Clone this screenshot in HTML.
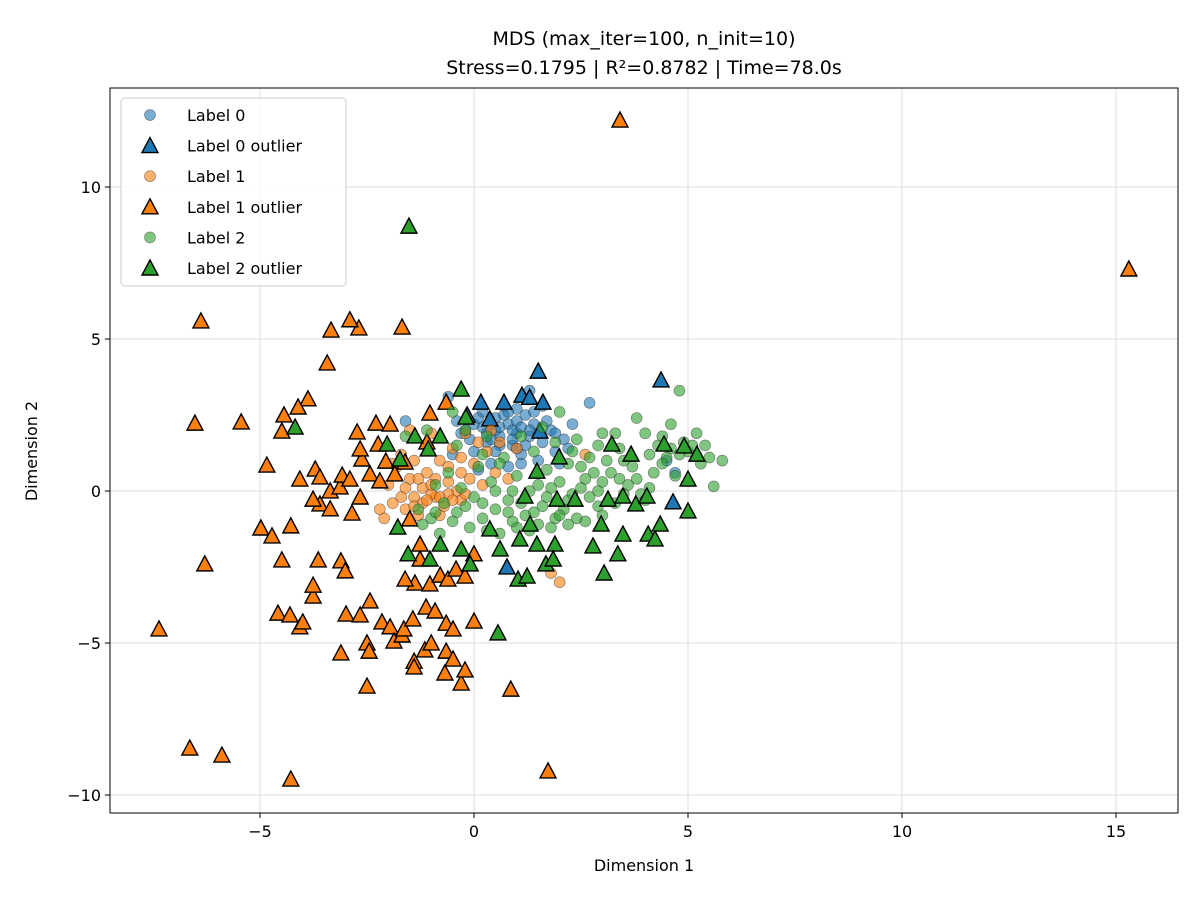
<!DOCTYPE html>
<html><head><meta charset="utf-8"><style>
body{margin:0;background:#fff;font-family:"Liberation Sans","DejaVu Sans",sans-serif}
svg text{font-family:"DejaVu Sans","Liberation Sans",sans-serif}
</style></head><body>
<svg id="chart" width="1200" height="900" xmlns="http://www.w3.org/2000/svg">
<rect width="1200" height="900" fill="#fff"/>
<text x="644" y="45" font-size="19" text-anchor="middle">MDS (max_iter=100, n_init=10)</text>
<text x="644" y="74" font-size="19" text-anchor="middle">Stress=0.1795 | R²=0.8782 | Time=78.0s</text>
<g id="grid"></g><g id="marks"></g><g id="axes"></g>
<text x="644" y="871" font-size="16" text-anchor="middle">Dimension 1</text>
<text x="37" y="451" font-size="16" text-anchor="middle" transform="rotate(-90 37 451)">Dimension 2</text>
<g id="legend"></g>
</svg>
<script>
const xTicks=[-5,0,5,10,15];
const yTicks=[-10,-5,0,5,10];
const labels=["Label 0","Label 1","Label 2"];
const colors=["#1f77b4","#ff7f0e","#2ca02c"];
const normal0=[[0.2,2.1],[0.5,2.4],[0.8,2.2],[1.0,1.9],[1.2,2.5],[1.4,2.2],[0.6,1.8],[0.9,1.5],[1.1,1.2],[0.3,1.6],[-0.2,2.0],[-0.4,2.3],[0.0,1.3],[1.6,1.6],[1.8,2.0],[2.1,1.7],[2.3,2.2],[1.3,3.3],[0.7,2.8],[1.0,2.7],[-0.6,3.1],[-1.6,2.3],[2.7,2.9],[4.7,0.6],[4.5,1.0],[0.4,0.9],[0.8,0.8],[1.5,1.0],[-0.5,1.2],[0.1,0.7],[1.9,1.3],[2.0,0.9],[0.5,2.0],[1.3,1.8],[0.9,2.0],[0.2,2.6],[-0.1,1.7],[1.6,2.8],[2.2,1.4],[1.1,0.9],[0.4,2.2],[0.7,2.5],[1.0,2.3],[1.3,2.0],[0.6,1.5],[0.9,1.7],[1.2,1.5],[0.3,1.9],[0.0,2.2],[1.5,1.9],[1.7,2.3],[0.8,2.6],[0.5,1.3],[1.4,2.6],[0.1,2.4],[-0.3,1.9],[1.9,1.9],[0.6,2.1],[1.1,2.1],[0.4,1.7],[1.0,1.4]];
const outlier0=[[1.5,3.91],[4.37,3.62],[1.12,3.12],[1.61,2.89],[1.3,3.05],[0.7,2.89],[0.16,2.89],[1.54,1.94],[-0.16,2.47],[4.65,-0.39],[0.77,-2.53],[0.37,2.34]];
const normal1=[[-1.8,0.8],[-1.5,0.4],[-1.2,0.1],[-0.9,-0.2],[-0.6,0.3],[-0.3,0.6],[0.0,0.9],[0.3,1.3],[0.6,1.6],[-1.9,-0.4],[-1.6,-0.6],[-1.3,-0.8],[-1.0,-0.1],[-0.7,-0.5],[-0.4,0.0],[-0.1,0.4],[0.2,0.2],[-2.0,0.2],[-1.7,1.2],[-1.4,1.0],[-1.1,0.6],[-0.8,1.0],[-0.5,1.4],[-0.2,1.9],[0.4,2.0],[-2.1,-0.9],[-1.2,-0.4],[-0.9,0.4],[-0.6,-0.1],[-1.5,2.0],[-1.0,1.9],[-0.3,1.1],[0.5,0.6],[1.0,1.4],[2.6,1.2],[2.0,-3.0],[1.8,-2.7],[-0.3,-0.3],[-0.8,-0.8],[-1.4,-0.2],[-2.2,-0.6],[-1.9,0.9],[0.1,1.6],[0.8,0.4],[-1.1,-0.3],[-0.8,-0.2],[-1.4,-0.5],[-0.5,-0.3],[-1.7,-0.2],[-1.0,0.2],[-0.2,-0.1],[-1.3,0.4],[-0.6,0.8],[-1.6,0.1]];
const outlier1=[[3.41,12.17],[15.3,7.27],[-6.38,5.56],[-2.69,5.33],[-3.34,5.26],[-2.9,5.6],[-1.68,5.36],[-3.43,4.18],[-6.52,2.2],[-5.44,2.24],[-3.88,3.0],[-4.11,2.73],[-4.44,2.47],[-4.49,1.94],[-4.84,0.82],[-4.98,-1.25],[-4.72,-1.51],[-4.28,-1.18],[-6.29,-2.43],[-4.49,-2.3],[-7.36,-4.57],[-4.58,-4.05],[-4.3,-4.11],[-4.07,-4.5],[-4.0,-4.34],[-3.76,-3.49],[-3.76,-3.13],[-3.64,-2.3],[-3.11,-2.33],[-3.01,-2.66],[-2.99,-4.08],[-3.11,-5.36],[-2.66,-4.11],[-2.43,-3.65],[-2.5,-5.03],[-2.45,-5.3],[-2.5,-6.45],[-2.15,-4.34],[-1.96,-4.5],[-1.87,-4.97],[-1.68,-4.77],[-1.64,-4.57],[-1.43,-4.24],[-1.4,-5.63],[-1.4,-5.82],[-1.15,-5.26],[-1.0,-5.03],[-1.12,-3.85],[-0.91,-3.98],[-0.65,-4.38],[-0.49,-4.57],[-0.65,-5.3],[-0.49,-5.56],[-0.68,-6.02],[-0.3,-6.35],[-0.21,-5.92],[0.0,-4.31],[0.86,-6.55],[-6.64,-8.49],[-5.89,-8.72],[-4.28,-9.51],[1.73,-9.24],[0.0,-2.1],[-4.07,0.36],[-3.71,0.69],[-3.6,0.43],[-3.6,-0.46],[-3.36,-0.03],[-3.13,0.1],[-3.08,0.49],[-2.9,0.36],[-2.66,-0.23],[-2.85,-0.76],[-2.73,1.91],[-2.29,2.2],[-2.24,1.51],[-1.96,2.17],[-2.06,0.95],[-1.85,0.53],[-1.61,0.92],[-1.03,2.53],[-1.1,1.58],[-0.65,2.89],[-2.62,1.02],[-2.43,0.53],[-2.2,0.3],[-1.5,-0.95],[-1.38,-3.06],[-1.26,-2.27],[-1.03,-3.09],[-0.79,-2.8],[-0.61,-2.93],[-0.42,-2.6],[-0.21,-2.83],[-1.61,-2.93],[-1.26,-1.78],[-2.66,1.35],[-3.76,-0.3],[-3.36,-0.62]];
const normal2=[[-0.5,2.6],[-0.2,2.0],[0.3,1.8],[0.7,1.1],[1.0,0.5],[1.3,0.0],[1.6,-0.5],[1.9,-0.9],[2.2,-0.3],[2.5,0.1],[2.8,0.6],[3.1,1.0],[3.4,1.4],[3.7,0.8],[4.0,1.9],[4.3,1.5],[4.6,2.2],[4.9,1.6],[5.2,1.9],[5.5,1.1],[5.8,1.0],[5.6,0.15],[4.8,3.3],[4.1,1.2],[3.8,2.4],[3.3,1.9],[2.9,1.5],[2.5,0.8],[2.0,0.3],[1.7,0.7],[1.4,1.3],[1.1,1.8],[0.8,-0.3],[0.5,-0.6],[0.2,-0.9],[-0.1,-1.2],[-0.4,-0.7],[-0.7,-0.4],[-1.0,-0.9],[-1.3,-0.6],[-0.6,0.6],[-0.3,0.1],[0.0,-0.2],[0.4,0.3],[0.9,0.0],[1.2,-0.8],[1.5,-1.1],[1.8,0.1],[2.1,-0.6],[2.4,-0.9],[2.7,-0.2],[3.0,0.3],[3.3,-0.4],[3.6,0.2],[3.9,-0.1],[4.2,0.6],[4.5,1.1],[4.7,0.5],[5.0,1.3],[5.3,0.9],[5.1,1.5],[4.4,0.9],[2.0,2.6],[2.3,1.3],[1.0,-1.2],[0.6,-1.4],[-0.8,-1.4],[-1.2,-1.1],[-1.6,1.8],[-1.1,2.0],[0.6,0.9],[1.5,0.2],[2.6,-1.0],[3.5,1.0],[3.0,-0.8],[2.2,0.9],[1.9,1.6],[0.1,0.8],[-0.9,0.2],[4.0,-0.3],[0.2,-0.4],[0.5,0.0],[0.8,-0.7],[1.1,-0.4],[1.4,-0.7],[1.7,-0.2],[2.0,-0.8],[2.3,-0.1],[2.6,0.4],[2.9,0.0],[3.2,0.6],[3.5,-0.1],[3.8,0.4],[4.1,0.1],[-0.2,-0.5],[-0.5,-1.0],[-0.9,-0.7],[0.3,-1.3],[0.9,-1.0],[1.3,-1.3],[1.8,-1.2],[2.2,-1.1],[2.9,-0.5],[3.4,0.4],[4.4,1.8],[4.8,1.2],[5.4,1.5],[4.6,1.4],[2.4,1.7],[2.7,1.1],[3.0,1.9],[-0.4,1.5],[0.2,1.2],[1.6,2.1]];
const outlier2=[[-1.52,8.68],[-0.3,3.32],[-4.18,2.07],[-2.03,1.51],[-1.73,1.02],[-1.38,1.78],[-0.79,1.78],[-0.19,2.4],[-1.78,-1.22],[-1.03,-2.27],[-0.79,-1.78],[-0.3,-1.94],[-0.09,-2.43],[0.37,-1.28],[0.61,-1.94],[1.07,-1.61],[1.47,-1.78],[1.89,-1.78],[1.31,-1.12],[1.03,-2.93],[1.24,-2.83],[1.68,-2.43],[1.85,-2.27],[1.47,0.62],[1.94,-0.3],[1.99,1.09],[2.78,-1.84],[3.04,-2.73],[2.97,-1.12],[3.22,1.51],[3.36,-2.1],[3.48,-1.45],[3.13,-0.3],[3.48,-0.2],[3.78,-0.46],[4.04,-0.2],[3.67,1.18],[4.07,-1.45],[4.23,-1.61],[4.35,-1.12],[4.44,1.51],[4.91,1.45],[5.21,1.18],[5.0,-0.69],[5.0,0.36],[0.56,-4.7],[-1.54,-2.1],[-1.07,1.35],[1.19,-0.2],[2.36,-0.3]];

const L=110,R=1178,T=88,B=813;
const X=v=>474+v*42.8;
const Y=v=>491-v*30.4;
const NS="http://www.w3.org/2000/svg";
function mk(tag,attrs,parent){const e=document.createElementNS(NS,tag);for(const k in attrs)e.setAttribute(k,attrs[k]);parent.appendChild(e);return e;}
const grid=document.getElementById('grid'),axes=document.getElementById('axes'),marks=document.getElementById('marks'),legend=document.getElementById('legend');
xTicks.forEach(t=>{
  const g=mk('line',{x1:X(t),x2:X(t),y1:T,y2:B,stroke:'#ddd','stroke-width':1},grid);
  
  
  const tk=mk('line',{x1:X(t),x2:X(t),y1:B,y2:B+5,stroke:'#000','stroke-width':1},axes);
  
  
  const tx=mk('text',{x:X(t),y:B+24,'font-size':16,'text-anchor':'middle'},axes);
  tx.textContent=t<0?'\u2212'+(-t):String(t);
  
  
});
yTicks.forEach(t=>{
  const g=mk('line',{x1:L,x2:R,y1:Y(t),y2:Y(t),stroke:'#ddd','stroke-width':1},grid);
  
  
  const tk=mk('line',{x1:L-5,x2:L,y1:Y(t),y2:Y(t),stroke:'#000','stroke-width':1},axes);
  
  
  const tx=mk('text',{x:L-9,y:Y(t)+6,'font-size':16,'text-anchor':'end'},axes);
  tx.textContent=t<0?'\u2212'+(-t):String(t);
  
  
});
const frame=mk('rect',{x:L,y:T,width:R-L,height:B-T,fill:'none',stroke:'#000','stroke-width':1},axes);



function circle(px,py,c,parent){return mk('circle',{cx:px,cy:py,r:5.5,fill:c,'fill-opacity':0.6,stroke:'#333','stroke-opacity':0.6,'stroke-width':0.6},parent);}
function tri(px,py,c,parent){return mk('polygon',{points:`${px},${py-9} ${px-8},${py+6} ${px+8},${py+6}`,fill:c,stroke:'#000','stroke-width':1.4,'stroke-linejoin':'miter'},parent);}
const normals=[normal0,normal1,normal2],outs=[outlier0,outlier1,outlier2];
for(let i=0;i<3;i++){
  normals[i].forEach(p=>{const e=circle(X(p[0]),Y(p[1]),colors[i],marks);
    
    });
  outs[i].forEach(p=>{const e=tri(X(p[0]),Y(p[1]),colors[i],marks);
    
    });
}
const box=mk('rect',{x:121,y:98,width:225,height:188,rx:4,fill:'#fff','fill-opacity':0.85,stroke:'#ccc'},legend);


const entries=[];labels.forEach((l,i)=>{entries.push([l,i,'c']);entries.push([l+' outlier',i,'t']);});
entries.forEach((en,k)=>{
  const y=115+k*30.6;
  const m=en[2]==='c'?circle(150,y,colors[en[1]],legend):tri(150,y+1,colors[en[1]],legend);
  
  
  const t=mk('text',{x:187,y:y+6,'font-size':16},legend);
  t.textContent=en[0];
  
  
});
</script>
</body></html>
